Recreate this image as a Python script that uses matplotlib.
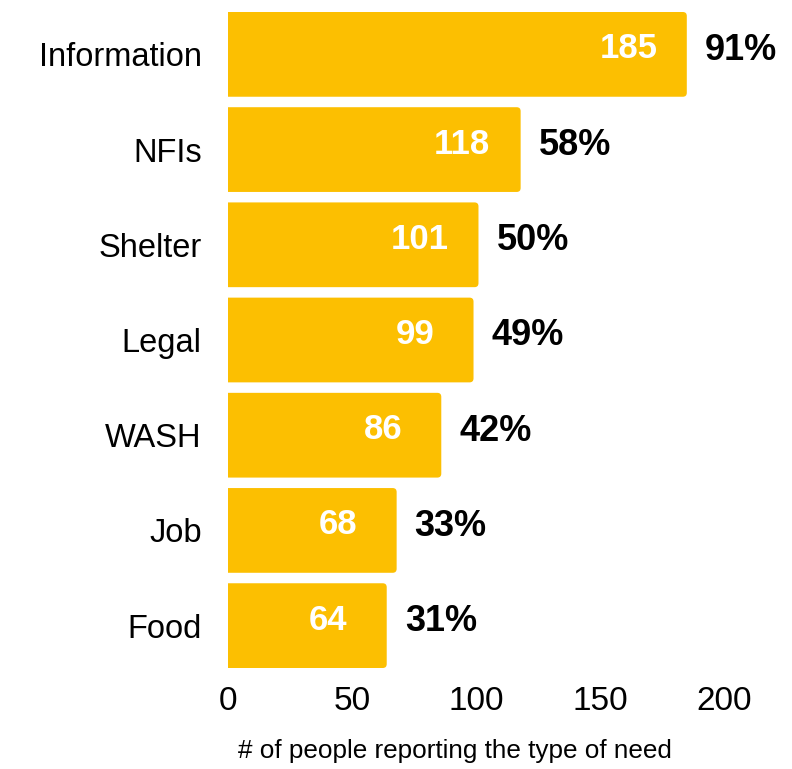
import matplotlib
matplotlib.use("Agg")
import matplotlib.pyplot as plt
from matplotlib.patches import FancyBboxPatch

needs = ["Information", "NFIs", "Shelter", "Legal", "WASH", "Job", "Food"]
counts = [185, 118, 101, 99, 86, 68, 64]
shares = [91, 58, 50, 49, 42, 33, 31]
ticks = [0, 50, 100, 150, 200]

bar_color = "#FCBF01"
bar_h = 0.89

plt.rcParams["font.family"] = ["Liberation Sans", "DejaVu Sans"]

fig = plt.figure(figsize=(7.92, 7.69), dpi=100)
ax = fig.add_axes([228 / 792, 1 - 668 / 769, (724 - 228) / 792, (668 - 12) / 769])
ax.set_xlim(0, 200)
ax.set_ylim(len(needs) - 1 + bar_h / 2, -bar_h / 2)

# px per data unit, used to keep the corner rounding circular
px_x = ax.bbox.width / 200
px_y = ax.bbox.height / (len(needs) - 1 + bar_h)

for i, (n, c, s) in enumerate(zip(needs, counts, shares)):
    # start left of the axis so only the right corners show as rounded
    box = FancyBboxPatch((-10, i - bar_h / 2), c + 10, bar_h,
                         boxstyle="round,pad=0,rounding_size=1.6",
                         mutation_aspect=px_x / px_y,
                         facecolor=bar_color, edgecolor="none", clip_on=True)
    ax.add_patch(box)
    ax.annotate(str(c), (c, i), xytext=(-42, 4), textcoords="offset points",
                ha="center", va="center", color="white",
                fontsize=25, fontweight="bold")
    ax.annotate(f"{s}%", (c, i), xytext=(13, 3), textcoords="offset points",
                ha="left", va="center", color="black",
                fontsize=26, fontweight="bold", annotation_clip=False)

ax.set_yticks(range(len(needs)))
ax.set_yticklabels(needs, fontsize=23.5)
ax.set_xticks(ticks)
ax.set_xticklabels([str(t) for t in ticks], fontsize=24)
ax.tick_params(length=0)
ax.tick_params(axis="y", pad=19)
ax.tick_params(axis="x", pad=13)
ax.set_xlabel("# of people reporting the type of need", fontsize=18.8)
ax.xaxis.set_label_coords(0.458, -0.108)
for sp in ax.spines.values():
    sp.set_visible(False)

fig.savefig("out.png", dpi=100)
